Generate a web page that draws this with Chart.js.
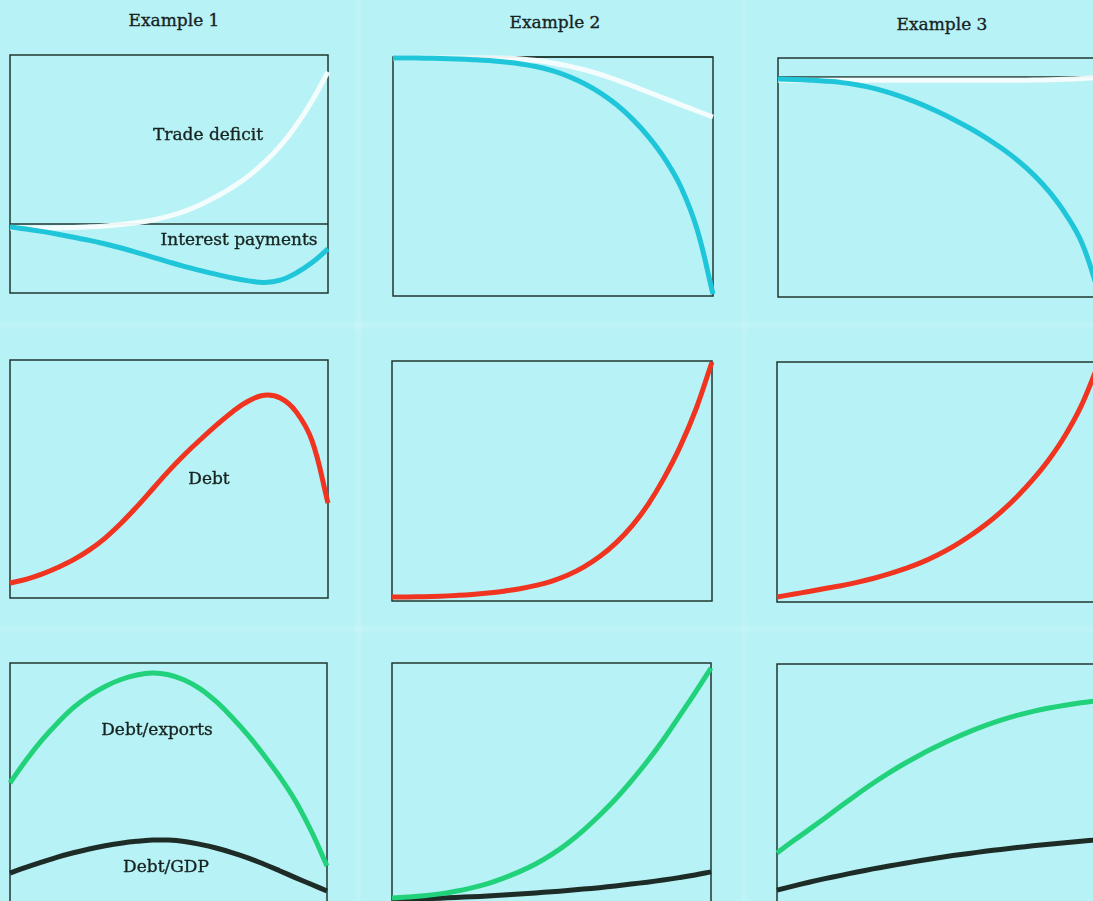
<!DOCTYPE html>
<html>
<head>
<meta charset="utf-8">
<script src="https://cdn.jsdelivr.net/npm/chart.js@4.4.1/dist/chart.umd.min.js"></script>
<style>
  html, body {
    margin: 0;
    padding: 0;
    width: 1093px;
    height: 901px;
    overflow: hidden;
    background: #b6f2f6;
  }
  #page {
    position: relative;
    width: 1093px;
    height: 901px;
    background:
      linear-gradient(90deg, transparent 353px, rgba(255,255,255,0.14) 358px, transparent 364px),
      linear-gradient(90deg, transparent 739px, rgba(255,255,255,0.12) 744px, transparent 750px),
      linear-gradient(180deg, transparent 319px, rgba(255,255,255,0.14) 325px, transparent 331px),
      linear-gradient(180deg, transparent 623px, rgba(255,255,255,0.13) 629px, transparent 635px);
  }
  canvas { position: absolute; }
  .lbl {
    position: absolute;
    font-family: "DejaVu Serif", serif;
    font-size: 17px;
    line-height: 17px;
    color: #17231f;
    -webkit-text-stroke: 0.35px #17231f;
    white-space: nowrap;
    transform: translateX(-50%);
  }
</style>
</head>
<body>
<div id="page"></div>
<script>
/*********************************************************
 DATA (x steps shared by every panel)
*********************************************************/
const steps = [0, 5, 10, 15, 20, 25, 30, 35, 40, 45, 50, 55, 60, 65, 70, 75, 80, 85, 90, 95, 100];

// row 1 : trade deficit (white) and interest payments (cyan), 0 = balance line
const ex1Trade    = [-1.7, -1.7, -1.7, -1.6, -1.5, -1.2, -0.8, -0.2, 0.6, 1.7, 3.3, 5.4, 8.2, 11.6, 15.5, 20.2, 25.9, 32.8, 41.4, 51.8, 63.9];
const ex1Interest = [-1.3, -2.1, -3.1, -4.3, -5.6, -6.9, -8.4, -10.1, -12.0, -14.0, -16.0, -17.9, -19.6, -21.2, -22.7, -23.9, -24.6, -23.6, -20.6, -16.2, -10.5];
const ex2Trade    = [-0.4, -0.4, -0.4, -0.4, -0.4, -0.4, -0.4, -0.5, -0.8, -1.5, -2.5, -3.8, -5.4, -7.4, -9.7, -12.2, -14.8, -17.4, -20.0, -22.6, -25.1];
const ex2Interest = [-0.4, -0.4, -0.5, -0.6, -0.8, -1.1, -1.5, -2.1, -2.9, -4.1, -5.8, -8.2, -11.3, -15.2, -20.1, -26.2, -33.6, -42.7, -54.5, -72.0, -99.2];
const ex3Trade    = [-1.3, -1.3, -1.3, -1.3, -1.3, -1.3, -1.3, -1.3, -1.3, -1.3, -1.3, -1.3, -1.3, -1.3, -1.3, -1.3, -1.2, -1.1, -0.9, -0.6, -0.2];
const ex3Interest = [-0.8, -1.0, -1.3, -1.7, -2.3, -3.3, -4.7, -6.6, -8.9, -11.5, -14.5, -17.8, -21.4, -25.4, -29.9, -35.0, -41.0, -48.3, -57.5, -69.5, -89.1];

// row 2 : debt (red)
const ex1Debt = [6.3, 7.8, 10.0, 12.8, 16.1, 20.2, 25.3, 31.5, 38.5, 46.0, 53.5, 60.4, 66.7, 72.7, 78.3, 82.8, 85.2, 84.0, 78.2, 66.0, 39.9];
const ex2Debt = [1.7, 1.7, 1.8, 2.0, 2.3, 2.7, 3.3, 4.1, 5.1, 6.5, 8.3, 10.8, 14.2, 18.6, 24.2, 31.3, 40.2, 51.2, 64.2, 80.0, 99.6];
const ex3Debt = [2.1, 3.2, 4.4, 5.6, 6.8, 8.2, 9.8, 11.7, 13.9, 16.4, 19.5, 23.1, 27.3, 32.1, 37.6, 43.9, 51.1, 59.4, 69.3, 81.5, 97.5];

// row 3 : debt/exports (green) and debt/GDP (dark)
const ex1Exports = [49.8, 59.2, 67.6, 74.9, 81.3, 86.3, 90.2, 93.1, 95.0, 95.8, 95.1, 92.9, 89.2, 83.9, 77.3, 69.9, 61.6, 52.6, 42.4, 29.8, 15.1];
const ex1GDP     = [12.1, 14.5, 16.7, 18.8, 20.6, 22.2, 23.5, 24.6, 25.4, 25.9, 25.9, 25.3, 24.1, 22.6, 20.7, 18.5, 15.9, 13.1, 10.2, 7.4, 4.6];
const ex2Exports = [1.7, 2.1, 2.6, 3.4, 4.5, 5.9, 7.7, 10.0, 12.7, 15.9, 19.8, 24.5, 30.0, 36.2, 43.0, 50.6, 58.8, 67.8, 77.6, 87.5, 97.9];
const ex2GDP     = [0.8, 1.0, 1.3, 1.6, 1.9, 2.2, 2.5, 2.9, 3.3, 3.8, 4.3, 4.8, 5.4, 6.0, 6.7, 7.5, 8.3, 9.2, 10.2, 11.3, 12.6];
const ex3Exports = [20.6, 25.6, 30.4, 35.3, 40.3, 45.2, 49.9, 54.3, 58.3, 62.0, 65.4, 68.6, 71.5, 74.1, 76.4, 78.4, 80.1, 81.5, 82.7, 83.7, 84.5];
const ex3GDP     = [5.0, 6.7, 8.3, 9.8, 11.2, 12.6, 13.9, 15.1, 16.3, 17.4, 18.5, 19.5, 20.4, 21.3, 22.1, 22.9, 23.6, 24.3, 24.9, 25.5, 26.1];

const columnTitles = ["Example 1", "Example 2", "Example 3"];

/*********************************************************
 STYLE
*********************************************************/
const PAD = 10;
const COL = {
  white: "rgba(248,253,253,0.95)",
  cyan:  "#1fc5d9",
  red:   "#f0341f",
  green: "#21d27a",
  dark:  "#1e2c27",
  frame: "#22362f"
};

const page = document.getElementById("page");

/*********************************************************
 PANEL FACTORY
*********************************************************/
const framePlugin = {
  id: "frame",
  beforeDatasetsDraw(chart, args, opts) {
    const { ctx, chartArea: a, scales } = chart;
    ctx.save();
    ctx.strokeStyle = COL.frame;
    ctx.lineWidth = 1.5;
    ctx.strokeRect(a.left, a.top, a.right - a.left, a.bottom - a.top);
    if (opts.zero) {
      const y = scales.y.getPixelForValue(0);
      ctx.beginPath();
      ctx.moveTo(a.left, y);
      ctx.lineTo(a.right, y);
      ctx.stroke();
    }
    ctx.restore();
  }
};

function makePanel(left, top, w, h, yMin, yMax, series, zero) {
  const cv = document.createElement("canvas");
  cv.width = w + PAD * 2;
  cv.height = h + PAD * 2;
  cv.style.left = (left - PAD) + "px";
  cv.style.top = (top - PAD) + "px";
  page.appendChild(cv);

  return new Chart(cv.getContext("2d"), {
    type: "line",
    data: {
      labels: steps,
      datasets: series.map(s => ({
        data: s.data,
        borderColor: s.color,
        borderWidth: 5,
        borderCapStyle: "butt",
        borderJoinStyle: "round",
        pointRadius: 0,
        fill: false,
        tension: 0.4,
        clip: PAD
      }))
    },
    options: {
      responsive: false,
      animation: false,
      events: [],
      layout: { padding: PAD },
      plugins: {
        legend: { display: false },
        tooltip: { enabled: false },
        frame: { zero: zero }
      },
      scales: {
        x: { type: "category", display: false, offset: false },
        y: { type: "linear", display: false, min: yMin, max: yMax }
      }
    },
    plugins: [framePlugin]
  });
}

function addLabel(text, cx, baseline, size) {
  const fs = size || 17;
  const d = document.createElement("div");
  d.className = "lbl";
  d.textContent = text;
  d.style.fontSize = fs + "px";
  d.style.lineHeight = fs + "px";
  d.style.left = cx + "px";
  d.style.top = (baseline - fs * 0.85) + "px";
  page.appendChild(d);
}

/*********************************************************
 ROW 1
*********************************************************/
makePanel(10, 55, 318, 238, -29, 71, [
  { data: ex1Interest, color: COL.cyan },
  { data: ex1Trade, color: COL.white }
], true);
makePanel(393, 57, 320, 239, -100, 0, [
  { data: ex2Interest, color: COL.cyan },
  { data: ex2Trade, color: COL.white }
], true);
makePanel(778, 58, 320, 239, -92, 8, [
  { data: ex3Interest, color: COL.cyan },
  { data: ex3Trade, color: COL.white }
], true);

/*********************************************************
 ROW 2
*********************************************************/
makePanel(10, 360, 318, 238, 0, 100, [{ data: ex1Debt, color: COL.red }], false);
makePanel(392, 361, 320, 240, 0, 100, [{ data: ex2Debt, color: COL.red }], false);
makePanel(777, 362, 320, 240, 0, 100, [{ data: ex3Debt, color: COL.red }], false);

/*********************************************************
 ROW 3
*********************************************************/
makePanel(10, 663, 317, 239, 0, 100, [
  { data: ex1Exports, color: COL.green },
  { data: ex1GDP, color: COL.dark }
], false);
makePanel(392, 663, 319, 239, 0, 100, [
  { data: ex2Exports, color: COL.green },
  { data: ex2GDP, color: COL.dark }
], false);
makePanel(777, 664, 320, 238, 0, 100, [
  { data: ex3Exports, color: COL.green },
  { data: ex3GDP, color: COL.dark }
], false);

/*********************************************************
 TEXT
*********************************************************/
addLabel(columnTitles[0], 174, 26, 17);
addLabel(columnTitles[1], 555, 28, 17);
addLabel(columnTitles[2], 942, 30, 17);

addLabel("Trade deficit", 208, 140);
addLabel("Interest payments", 239, 245);
addLabel("Debt", 209, 484);
addLabel("Debt/exports", 157, 735);
addLabel("Debt/GDP", 166, 872);
</script>
</body>
</html>
